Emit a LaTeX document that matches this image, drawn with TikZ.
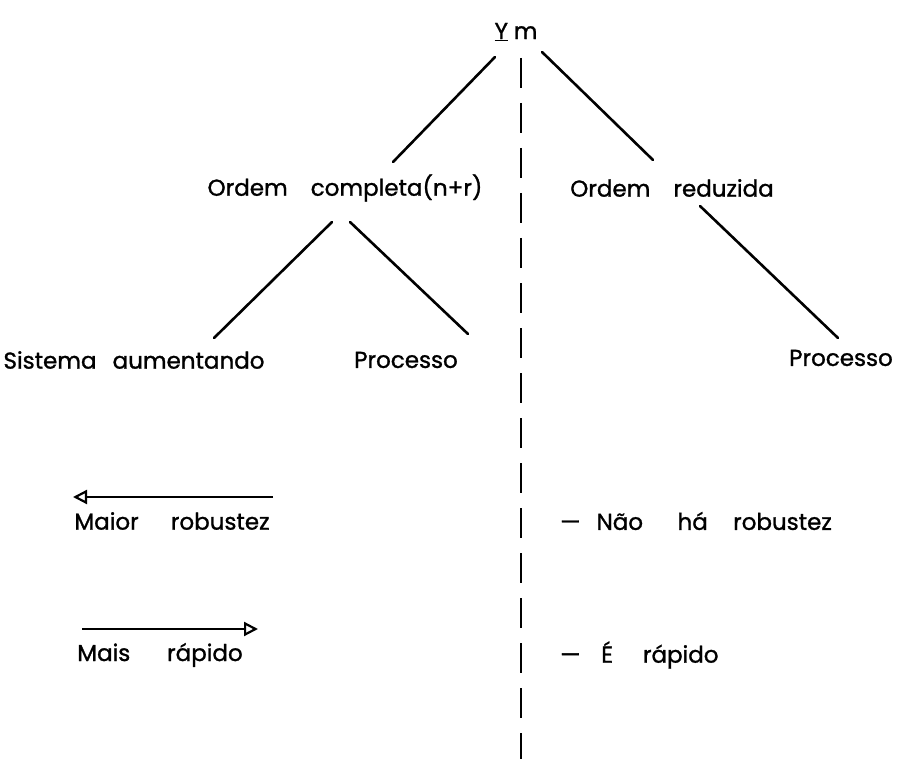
\documentclass[tikz,border=0pt]{standalone}
\usepackage{fontspec}
\setmainfont{Poppins}
\newfontfamily\lett{Poppins}[FakeBold=1.2]
\usetikzlibrary{arrows.meta}
\tikzset{
  lbl/.style={font=\lett\fontsize{23}{26}\selectfont, inner sep=0pt, anchor=center},
  branch/.style={line width=2.6pt, line cap=round},
  axis/.style={line width=2.6pt, dash pattern=on 30pt off 15pt},
  harrow/.style={line width=2.4pt, -{Triangle[open,length=14pt,width=14pt,line width=2.2pt]}}
}
\begin{document}
\begin{tikzpicture}[x=1pt,y=-1pt]
\useasboundingbox (0,0) rectangle (899,759);
% labels
\node[lbl] (ym) at (516,32) {\underline{Y}\hspace{0.25em}m};
\node[lbl] (oc) at (345,188) {Ordem\hspace{1em}completa(n+r)};
\node[lbl] (or) at (672,188) {Ordem\hspace{1em}reduzida};
\node[lbl] (sa) at (134,360) {Sistema\hspace{0.7em}aumentando};
\node[lbl] (p1) at (406,360) {Processo};
\node[lbl] (p2) at (841,358) {Processo};
\node[lbl] (mr) at (172,521) {Maior\hspace{1.4em}robustez};
\node[lbl, anchor=west] (nh) at (560,521) {—\hspace{0.7em}Não\hspace{1.5em}há\hspace{1.1em}robustez};
\node[lbl] (mra) at (160,655) {Mais\hspace{1.6em}rápido};
\node[lbl, anchor=west] (er) at (560,655) {—\hspace{0.9em}É\hspace{1.3em}rápido};
% branch end points
\coordinate (ymL) at (495,57);
\coordinate (ymR) at (542,52);
\coordinate (ocT) at (393,162);
\coordinate (orT) at (653,160);
\coordinate (ocL) at (332,222);
\coordinate (ocR) at (350,222);
\coordinate (saT) at (214,338);
\coordinate (p1T) at (468,334);
\coordinate (orB) at (700,206);
\coordinate (p2T) at (838,338);
\draw[branch] (ymL) -- (ocT);
\draw[branch] (ymR) -- (orT);
\draw[branch] (ocL) -- (saT);
\draw[branch] (ocR) -- (p1T);
\draw[branch] (orB) -- (p2T);
% dashed divider
\coordinate (dTop) at (521,58);
\coordinate (dBot) at (521,759);
\draw[axis] (dTop) -- (dBot);
% arrows
\coordinate (a1s) at (273,497);
\coordinate (a1e) at (73,497);
\draw[harrow] (a1s) -- (a1e);
\coordinate (a2s) at (82,629);
\coordinate (a2e) at (258,629);
\draw[harrow] (a2s) -- (a2e);
\end{tikzpicture}
\end{document}
